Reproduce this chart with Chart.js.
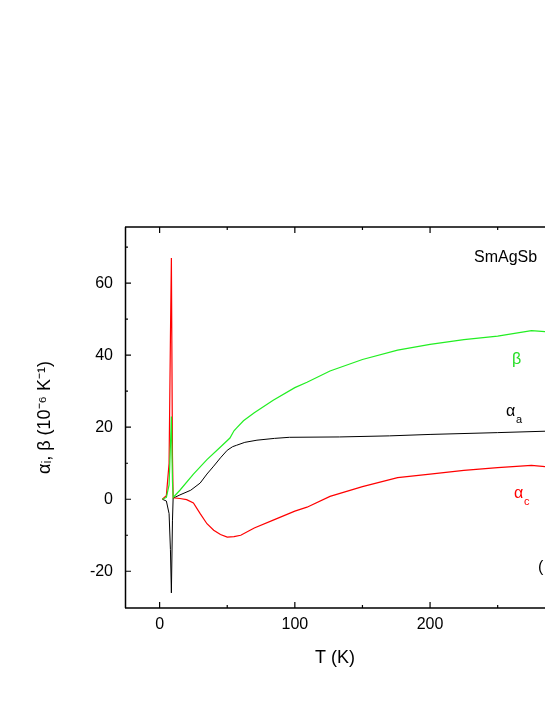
<!DOCTYPE html>
<html>
<head>
<meta charset="utf-8">
<script src="https://cdn.jsdelivr.net/npm/chart.js@4"></script>
<style>
  html, body { margin: 0; padding: 0; background: #fff; overflow: hidden; }
  #wrap { width: 545px; height: 705px; }
</style>
</head>
<body>
<div id="wrap"><canvas id="c"></canvas></div>
<script>
// Temperature (K) and values (10^-6 K^-1)
const T_BETA = [2, 5, 7, 8, 8.7, 9.5, 10, 15, 25, 35, 45, 52, 55, 57, 62, 70, 84, 100, 109, 126, 150, 176, 200, 225, 250, 275, 286];
const BETA = [0, 0.5, 4, 15, 23, 5, 0.5, 2.5, 7, 11, 14.5, 17, 19, 19.8, 21.8, 24, 27.5, 31, 32.5, 35.6, 38.8, 41.4, 43, 44.3, 45.3, 46.8, 46.5];

const T_ALPHA_A = [2, 5, 7, 8, 8.7, 9.5, 10, 15, 23, 30, 35, 40, 45, 50, 54, 57, 63, 72, 85, 96, 133, 170, 200, 250, 286];
const ALPHA_A = [0, -0.5, -4, -14, -26, -6, 0.3, 1.2, 2.5, 4.5, 7, 9.2, 11.5, 13.6, 14.6, 15, 15.8, 16.4, 16.9, 17.2, 17.3, 17.6, 18, 18.5, 18.9];

const T_ALPHA_C = [2, 5, 7, 8, 8.7, 9.5, 10, 15, 20, 25, 30, 35, 40, 45, 50, 55, 60, 70, 84, 100, 109, 126, 150, 176, 200, 225, 250, 275, 286];
const ALPHA_C = [0, 1, 10, 45, 67, 12, 0.4, 0.2, -0.1, -1, -4, -6.8, -8.6, -9.8, -10.5, -10.4, -10, -8, -5.8, -3.3, -2.2, 0.8, 3.5, 6, 7, 8, 8.8, 9.4, 9];

const X_TICKS = [0, 100, 200];
const Y_TICKS = [-20, 0, 20, 40, 60];

const FONT = '"Liberation Sans", Arial, sans-serif';

function pts(xs, ys) { return xs.map((x, i) => ({ x: x, y: ys[i] })); }

const frame = {
  id: 'frame',
  afterDraw(chart) {
    const ctx = chart.ctx, a = chart.chartArea;
    const sx = chart.scales.x, sy = chart.scales.y;
    ctx.save();
    ctx.strokeStyle = '#000';
    ctx.lineWidth = 1.5;
    ctx.beginPath();
    ctx.moveTo(a.left + 0.5, a.top); ctx.lineTo(a.left + 0.5, a.bottom);
    ctx.moveTo(a.left, a.bottom); ctx.lineTo(a.right + 2, a.bottom);
    ctx.moveTo(a.left, a.top); ctx.lineTo(a.right + 2, a.top);
    ctx.stroke();
    ctx.lineWidth = 1.2;
    ctx.beginPath();
    for (let v = -50; v <= 300; v += 50) {
      const p = sx.getPixelForValue(v);
      if (p < a.left + 2 || p > a.right) continue;
      const len = v % 100 === 0 ? 6 : 3;
      ctx.moveTo(p, a.bottom); ctx.lineTo(p, a.bottom - len);
      ctx.moveTo(p, a.top); ctx.lineTo(p, a.top + len);
    }
    for (let v = -30; v <= 70; v += 10) {
      const p = sy.getPixelForValue(v);
      if (p < a.top + 2 || p > a.bottom - 2) continue;
      const len = v % 20 === 0 ? 6 : 3;
      ctx.moveTo(a.left, p); ctx.lineTo(a.left + len, p);
    }
    ctx.stroke();
    // labels
    ctx.font = '16px ' + FONT;
    ctx.fillStyle = '#000';
    ctx.textBaseline = 'middle';
    ctx.fillText('SmAgSb', 474, 258);
    ctx.fillText('(', 538, 568);
    ctx.fillStyle = '#22dd22';
    ctx.fillText('\u03b2', 512, 360);
    ctx.fillStyle = '#000';
    ctx.fillText('\u03b1', 506, 412);
    ctx.font = '11px ' + FONT;
    ctx.fillText('a', 516, 420);
    ctx.fillStyle = '#ff0000';
    ctx.font = '16px ' + FONT;
    ctx.fillText('\u03b1', 514, 494);
    ctx.font = '11px ' + FONT;
    ctx.fillText('c', 524, 502);
    ctx.restore();
  }
};

new Chart(document.getElementById('c'), {
  type: 'line',
  data: {
    datasets: [
      { data: pts(T_BETA, BETA), borderColor: '#22ee22', borderWidth: 1.2 },
      { data: pts(T_ALPHA_C, ALPHA_C), borderColor: '#ff0000', borderWidth: 1.2 },
      { data: pts(T_ALPHA_A, ALPHA_A), borderColor: '#000000', borderWidth: 1 }
    ]
  },
  options: {
    responsive: true,
    maintainAspectRatio: false,
    animation: false,
    layout: { padding: { top: 227, right: 0, left: 30, bottom: 32 } },
    elements: { point: { radius: 0 }, line: { tension: 0 } },
    plugins: { legend: { display: false }, tooltip: { enabled: false } },
    scales: {
      x: {
        type: 'linear', min: -25.6, max: 285,
        afterBuildTicks: s => { s.ticks = X_TICKS.map(v => ({ value: v })); },
        afterFit: s => { s.height = 65; },
        grid: { display: false, drawTicks: false },
        border: { display: false },
        ticks: { color: '#000', padding: 7, font: { size: 16, family: FONT } },
        title: { display: true, text: 'T (K)', color: '#000', padding: { top: 4 }, font: { size: 18, family: FONT } }
      },
      y: {
        type: 'linear', min: -30.2, max: 75.6,
        afterBuildTicks: s => { s.ticks = Y_TICKS.map(v => ({ value: v })); },
        afterFit: s => { s.width = 95; },
        grid: { display: false, drawTicks: false },
        border: { display: false },
        ticks: { color: '#000', padding: 12, font: { size: 16, family: FONT } },
        title: { display: true, text: '\u03b1\u1d62, \u03b2 (10\u207b\u2076 K\u207b\u00b9)', color: '#000', padding: { bottom: 8 }, font: { size: 18, family: FONT } }
      }
    }
  },
  plugins: [frame]
});
</script>
</body>
</html>
